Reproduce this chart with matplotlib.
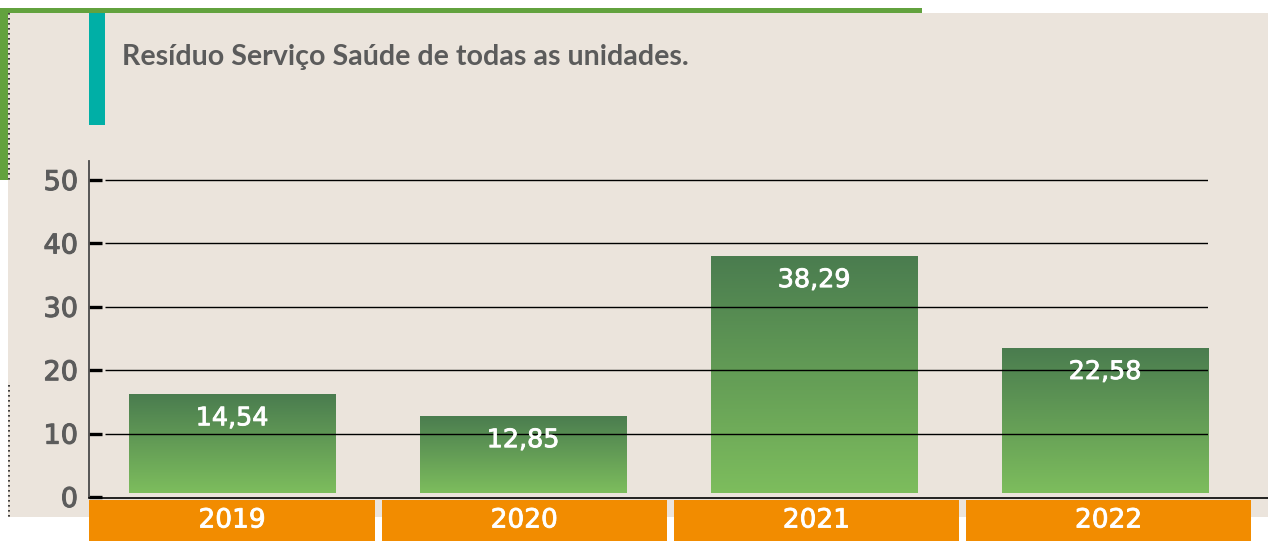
import numpy as np
import matplotlib
matplotlib.use("Agg")
import matplotlib.pyplot as plt
from matplotlib.patches import Rectangle
from matplotlib.lines import Line2D
from matplotlib.colors import LinearSegmentedColormap
import matplotlib.transforms as mtransforms
import matplotlib.patheffects as pe

# ---- data ----
years = ["2019", "2020", "2021", "2022"]
value_labels = ["14,54", "12,85", "38,29", "22,58"]
bar_heights = [15.6, 12.15, 37.4, 22.9]   # heights as drawn in the reference (above base)
y_ticks = [0, 10, 20, 30, 40, 50]
title = "Resíduo Serviço Saúde de todas as unidades."

W, H = 1268, 541
fig = plt.figure(figsize=(W / 100, H / 100), dpi=100)
fig.patch.set_facecolor("white")

def fx(x):
    return x / W

def fy(y):
    return 1 - y / H

def heavier(color, lw=0.7):
    return [pe.withStroke(linewidth=lw, foreground=color)]

# green leaf strip and paper background
fig.add_artist(Rectangle((fx(0), fy(13)), fx(922), 5 / H, transform=fig.transFigure,
                         facecolor="#62a23e", edgecolor="none", zorder=0))
fig.add_artist(Rectangle((fx(0), fy(180)), fx(10), 172 / H, transform=fig.transFigure,
                         facecolor="#62a23e", edgecolor="none", zorder=0))
fig.add_artist(Rectangle((fx(8), fy(517)), 1 - fx(8), 504 / H, transform=fig.transFigure,
                         facecolor="#ebe4dc", edgecolor="none", zorder=0.5))
# dotted lines at left
for y0, y1 in [(13, 180), (385, 517)]:
    fig.add_artist(Line2D([fx(9), fx(9)], [fy(y0), fy(y1)], transform=fig.transFigure,
                          color="#222222", lw=1.2, ls=(0, (1, 2)), zorder=1))
# teal accent bar
fig.add_artist(Rectangle((fx(89), fy(125)), 16 / W, 112 / H, transform=fig.transFigure,
                         facecolor="#00afa6", edgecolor="none", zorder=1))
fig.text(fx(122), fy(57), title, fontsize=20.6, fontweight="bold", color="#5b5b5b",
         family="Lato", va="center", ha="left", zorder=2)

# ---- axes ----
ax_l, ax_r, ax_b, ax_t = 89, 1208, 497, 161
ax = fig.add_axes([fx(ax_l), fy(ax_b), (ax_r - ax_l) / W, (ax_b - ax_t) / H])
ax.set_zorder(3)
ax.patch.set_alpha(0)
x = np.arange(len(years))

for s in ["top", "right", "bottom"]:
    ax.spines[s].set_visible(False)
ax.spines["left"].set_color("#4a4a4a")
ax.spines["left"].set_linewidth(1.3)
ax.set_xticks([])
ax.set_yticks(y_ticks)
ax.set_yticklabels([str(t) for t in y_ticks])
ax.tick_params(axis="y", direction="in", length=9, width=2.4, color="black",
               labelsize=19.5, labelcolor="#5c5c5c", pad=8)
for lab in ax.get_yticklabels():
    lab.set_family("DejaVu Sans")
    lab.set_path_effects(heavier("#5c5c5c", 0.8))

# gridlines
gx0 = (105 - ax_l) / (ax_r - ax_l)
ax.hlines(y_ticks[1:], gx0, 1, transform=ax.get_yaxis_transform(),
          color="black", lw=1.0, zorder=3)

# gradient bars
cmap = LinearSegmentedColormap.from_list("g", ["#7dbd5d", "#4a7c4f"])
grad = np.linspace(0, 1, 256).reshape(-1, 1)
bars = ax.bar(x, bar_heights, width=0.708, bottom=0.6, color="none", edgecolor="none", zorder=2)
for b, lab in zip(bars, value_labels):
    x0, y0 = b.get_x(), b.get_y()
    w, h = b.get_width(), b.get_height()
    im = ax.imshow(grad, cmap=cmap, origin="lower", aspect="auto",
                   extent=[x0, x0 + w, y0, y0 + h], zorder=2)
    im.set_clip_path(b)
    ax.annotate(lab, (x0 + w / 2, y0 + h), xytext=(0, -24), textcoords="offset pixels",
                ha="center", va="center", color="white", fontsize=18.3,
                family="DejaVu Sans", zorder=4, path_effects=heavier("white", 0.6))
ax.set_xlim(-0.4914, 3.354)
ax.set_ylim(0, 53)

# bottom axis line extending to the right edge
fig.add_artist(Line2D([fx(89), 1], [fy(497.5), fy(497.5)], transform=fig.transFigure,
                      color="black", lw=1.2, zorder=4))

# orange year boxes
trans = mtransforms.blended_transform_factory(ax.transData, fig.transFigure)
for i, yr in enumerate(years):
    cx = x[i] + 0.004 * i
    ax.add_patch(Rectangle((cx - 0.49, fy(541)), 0.98, 41 / H, transform=trans,
                           facecolor="#f28c00", edgecolor="none", clip_on=False, zorder=5))
    ax.text(cx, fy(520.5), yr, transform=trans, ha="center", va="center", color="white",
            fontsize=19, family="DejaVu Sans", clip_on=False, zorder=6,
            path_effects=heavier("white", 0.6))

fig.savefig("out.png", dpi=100)
